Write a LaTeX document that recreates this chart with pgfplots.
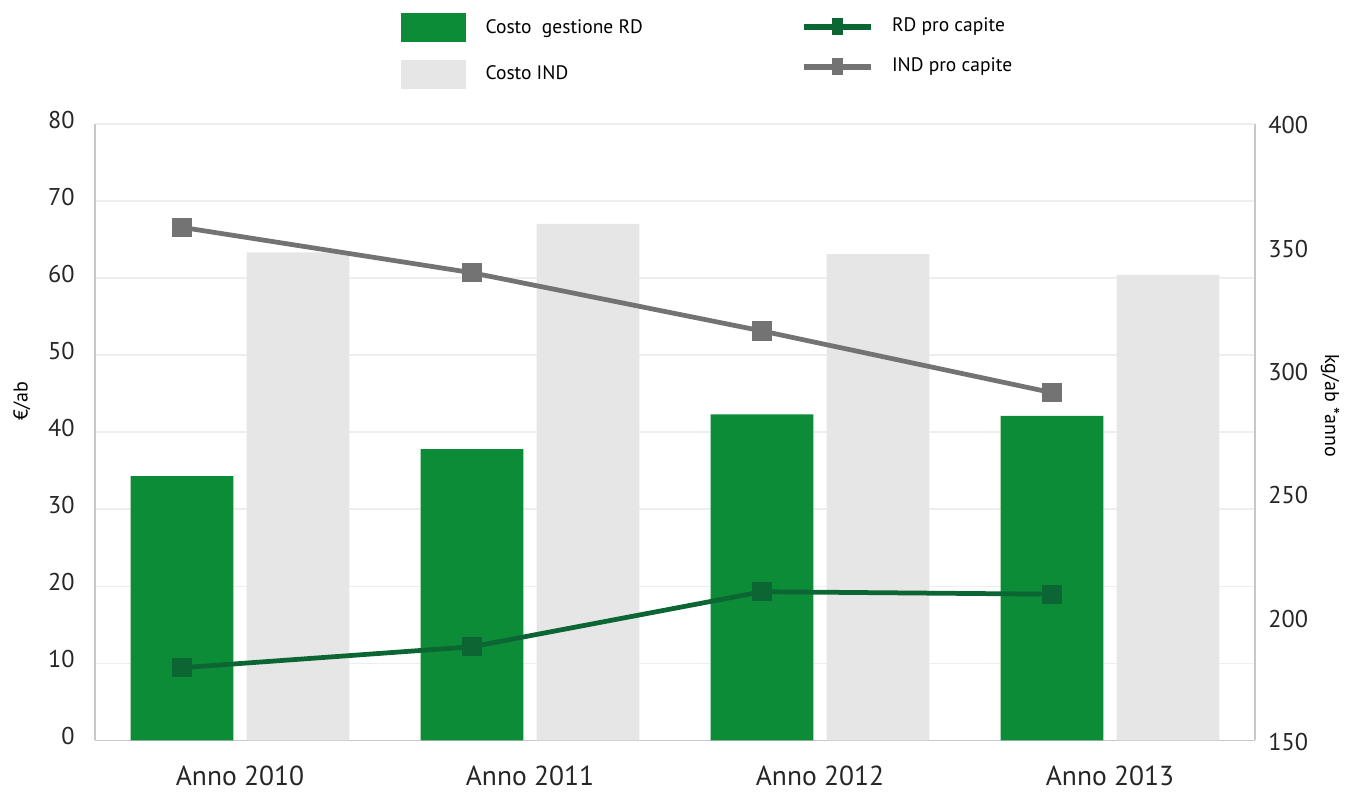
\documentclass[border=0pt]{standalone}
\usepackage{pgfplots}
\pgfplotsset{compat=1.18}
\usepackage{fontspec}
\setmainfont{PT Sans}

\definecolor{barRD}{RGB}{13,140,55}
\definecolor{barIND}{RGB}{230,230,230}
\definecolor{lineRD}{RGB}{11,102,51}
\definecolor{lineIND}{RGB}{115,115,115}
\definecolor{axisgray}{RGB}{200,200,200}
\definecolor{gridgray}{RGB}{238,238,238}

\pgfplotsset{
  common/.style={
    scale only axis,
    width=464pt, height=246.7pt,
    at={(38pt,21pt)}, anchor=south west,
    xmin=-0.5, xmax=3.5,
    /pgf/number format/assume math mode=true,
    axis line style={draw=axisgray, line width=0.6pt},
  },
}

\begin{document}
\begin{tikzpicture}
\path[use as bounding box] (0,0) rectangle (539.2pt,317.2pt);

% costs (euro per inhabitant)
\begin{axis}[
  common,
  ymin=0, ymax=80,
  axis x line*=bottom,
  axis y line*=left,
  ytick={0,10,...,80},
  ymajorgrids,
  grid style={draw=gridgray, line width=0.6pt},
  y tick style={draw=none},
  yticklabel style={font=\fontsize{9.7}{11}\selectfont, inner sep=0pt, xshift=-8pt, yshift=1.6pt, text=black!85},
  xtick={0,1,2,3},
  xticklabels={Anno 2010,Anno 2011,Anno 2012,Anno 2013},
  x tick style={draw=none},
  xticklabel style={font=\fontsize{11}{13}\selectfont, inner sep=0pt, yshift=-10pt, text=black!85},
  extra x ticks={-0.5,0.5,1.5,2.5,3.5},
  extra x tick labels={},
  extra x tick style={major tick length=6pt, tick style={draw=axisgray, line width=0.6pt}, grid=none},
  every axis y label/.style={at={(axis description cs:-0.063,0.551)}, anchor=center, rotate=90, font=\fontsize{8}{10}\selectfont},
  ylabel={€/ab},
  legend style={at={(0.263,1)}, anchor=north west, yshift=44.3pt, draw=none, fill=none,
    inner sep=0pt, row sep=7pt, font=\fontsize{7.8}{9}\selectfont,
    /tikz/every odd column/.append style={column sep=6pt}},
  legend cell align=left,
]
\addplot[ybar, bar width=0.355, bar shift=-0.2, fill=barRD, draw=none,
  legend image code/.code={\fill[barRD] (0pt,-5.8pt) rectangle (26pt,5.8pt);}]
  coordinates {(0,34.3) (1,37.8) (2,42.3) (3,42.1)};
\addlegendentry{Costo\ \ gestione RD}
\addplot[ybar, bar width=0.355, bar shift=0.2, fill=barIND, draw=none,
  legend image code/.code={\fill[barIND] (0pt,-5.8pt) rectangle (26pt,5.8pt);}]
  coordinates {(0,63.3) (1,67.0) (2,63.1) (3,60.4)};
\addlegendentry{Costo IND}
\end{axis}

% quantities (kg per inhabitant per year)
\begin{axis}[
  common,
  ymin=150, ymax=400,
  axis x line=none,
  axis y line*=right,
  ytick={150,200,...,400},
  y tick style={draw=none},
  yticklabel style={font=\fontsize{9.7}{11}\selectfont, inner sep=0pt, xshift=5.2pt, yshift=-0.6pt, text=black!85},
  every axis y label/.style={at={(axis description cs:1.0647,0.543)}, anchor=center, rotate=-90, font=\fontsize{8}{10}\selectfont},
  ylabel={kg/ab *anno},
  legend style={at={(0.6078,1)}, anchor=north west, yshift=44.6pt, draw=none, fill=none,
    inner sep=0pt, row sep=5pt, font=\fontsize{7.8}{9}\selectfont,
    /tikz/every odd column/.append style={column sep=5.2pt}},
  legend cell align=left,
]
\addplot[lineRD, line width=1.9pt, mark=square*, mark size=2.9pt,
  legend image code/.code={\draw[lineRD, line width=2.4pt] (0pt,0pt) -- (27pt,0pt);
    \fill[lineRD] (12.3pt,-2.6pt) rectangle (14.7pt,2.6pt);}]
  coordinates {(-0.2,179.5) (0.8,188.0) (1.8,210.3) (2.8,209.3)};
\addlegendentry{RD pro capite}
\addplot[lineIND, line width=1.9pt, mark=square*, mark size=2.9pt,
  legend image code/.code={\draw[lineIND, line width=2.4pt] (0pt,0pt) -- (27pt,0pt);
    \fill[lineIND] (12.3pt,-2.6pt) rectangle (14.7pt,2.6pt);}]
  coordinates {(-0.2,358.0) (0.8,339.6) (1.8,316.0) (2.8,291.0)};
\addlegendentry{IND pro capite}
\end{axis}
\end{tikzpicture}
\end{document}
